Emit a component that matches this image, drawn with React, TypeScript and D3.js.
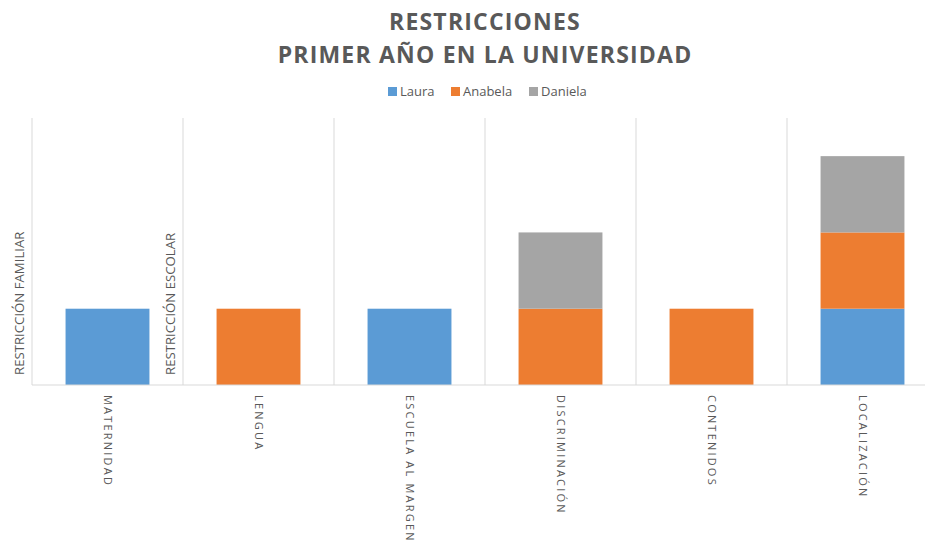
import React from "react";
import * as d3 from "d3";

const categories = ["MATERNIDAD", "LENGUA", "ESCUELA AL MARGEN", "DISCRIMINACIÓN", "CONTENIDOS", "LOCALIZACIÓN"];
const seriesNames = ["Laura", "Anabela", "Daniela"];
const laura = [1, 0, 1, 0, 0, 1];
const anabela = [0, 1, 0, 1, 1, 1];
const daniela = [0, 0, 0, 1, 0, 1];
const colors = ["#5b9bd5", "#ed7d31", "#a5a5a5"];
const groupLabels = [
  { text: "RESTRICCIÓN FAMILIAR", cat: 0 },
  { text: "RESTRICCIÓN ESCOLAR", cat: 1 },
];

const W = 925;
const H = 540;
const left = 32;
const right = 938;
const top = 118;
const bottom = 385;
const font = "'Open Sans', 'Noto Sans', sans-serif";

export default function App() {
  const rows = categories.map((c, i) => ({ cat: c, Laura: laura[i], Anabela: anabela[i], Daniela: daniela[i] }));
  const stack = d3.stack<any>().keys(seriesNames)(rows);
  const x = d3.scaleBand().domain(categories).range([left, right]).paddingInner(0).paddingOuter(0);
  const y = d3.scaleLinear().domain([0, 3.5]).range([bottom, top]);
  const bw = x.bandwidth() / 1.8;

  const legendItems = [
    { name: "Laura", x: 388 },
    { name: "Anabela", x: 451 },
    { name: "Daniela", x: 529 },
  ];

  return (
    <svg width={W} height={H} style={{ position: "absolute", left: 0, top: 0, background: "#fff" }} fontFamily={font}>
      <text x={485} y={30} textAnchor="middle" fontSize={23} fontWeight="bold" fill="#595959" letterSpacing={1.2}>
        RESTRICCIONES
      </text>
      <text x={485} y={63} textAnchor="middle" fontSize={23} fontWeight="bold" fill="#595959" letterSpacing={1.2}>
        PRIMER AÑO EN LA UNIVERSIDAD
      </text>
      {legendItems.map((l, i) => (
        <g key={l.name}>
          <rect x={l.x} y={87} width={9} height={9} fill={colors[i]} />
          <text x={l.x + 12} y={96} fontSize={13} fill="#595959">
            {l.name}
          </text>
        </g>
      ))}
      {categories.map((c) => (
        <line key={c} x1={x(c)!} x2={x(c)!} y1={top} y2={bottom} stroke="#d9d9d9" strokeWidth={1} />
      ))}
      {stack.map((s, si) =>
        s.map((d, i) =>
          d[1] - d[0] > 0 ? (
            <rect
              key={si + "-" + i}
              x={x(categories[i])! + (x.bandwidth() - bw) / 2}
              y={y(d[1])}
              width={bw}
              height={y(d[0]) - y(d[1])}
              fill={colors[si]}
            />
          ) : null
        )
      )}
      <line x1={left} x2={W} y1={bottom} y2={bottom} stroke="#d9d9d9" strokeWidth={1} />
      {groupLabels.map((g) => (
        <text
          key={g.text}
          transform={`translate(${x(categories[g.cat])! - 13},375) rotate(-90)`}
          fontSize={13.2}
          fill="#595959"
          dy="0.35em"
        >
          {g.text}
        </text>
      ))}
      {categories.map((c) => (
        <text
          key={c}
          transform={`translate(${x(c)! + x.bandwidth() / 2},395) rotate(90)`}
          fontSize={11}
          letterSpacing={2.2}
          fill="#595959"
          dy="0.35em"
        >
          {c}
        </text>
      ))}
    </svg>
  );
}
